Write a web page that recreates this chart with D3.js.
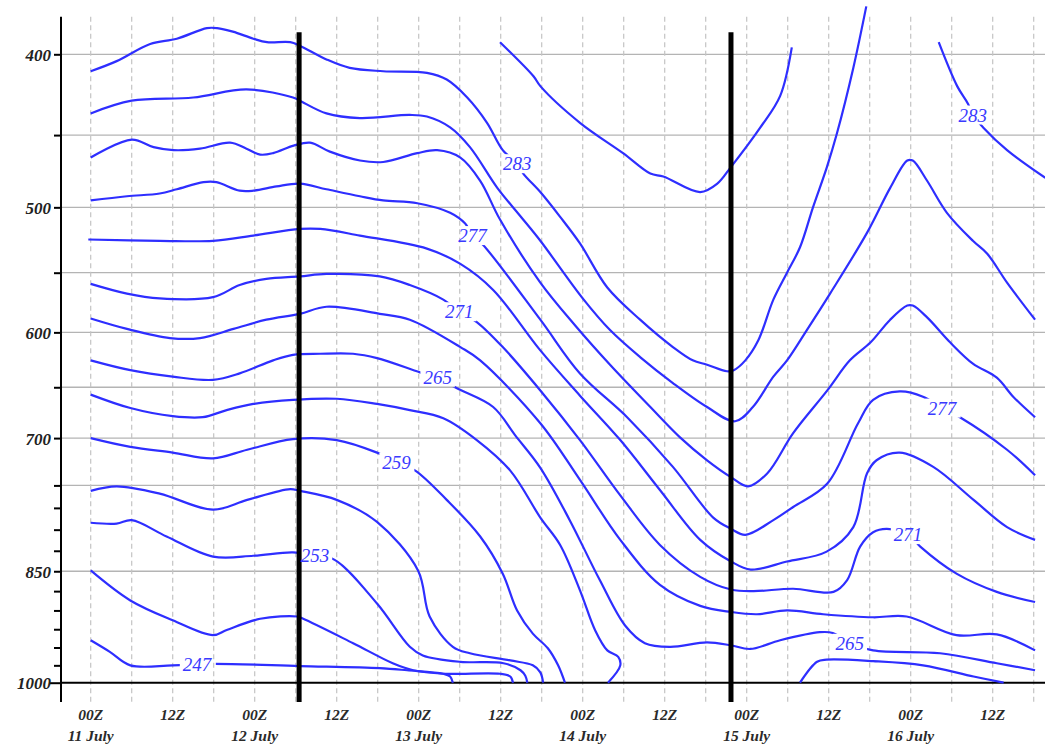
<!DOCTYPE html>
<html><head><meta charset="utf-8">
<script src="https://cdn.jsdelivr.net/npm/d3@7"></script>
<style>body{margin:0;background:#fff}</style>
</head><body>
<svg id="chart" width="1045" height="750"></svg>
<script>
// ---------- axis data ----------
const pressureTicks = [400,450,500,550,600,650,700,750,775,800,825,850,875,900,925,950,975,1000];
const pressureLabels = [400,500,600,700,850,1000];
const pressureGrid = [400,450,500,550,600,650,700,750,850];
const gridHours = d3.range(0,139,6);            // hours after 00Z 11 July
const labelHours = [0,12,24,36,48,60,72,84,96,108,120,132];
const hourText = ["00Z","12Z","00Z","12Z","00Z","12Z","00Z","12Z","00Z","12Z","00Z","12Z"];
const dayText  = ["11 July","","12 July","","13 July","","14 July","","15 July","","16 July",""];
const frontHours = [30.5, 93.7];

// ---------- isentropes: [hours after 00Z 11 July, pressure hPa] ----------
const c247 = [[0,940],[2.8,956],[5.8,975],[12,975],[17.9,973],[30.6,976],[42.3,979],[46.3,982],[51.6,987],[52.6,991],[53,1000]];
const c250 = [[0,849],[5.8,887],[12,913],[17.9,933],[19.9,926],[24.8,911],[30.2,908],[31.1,911],[38.4,944],[44.2,972],[47.2,982],[51.6,987],[59.9,987],[61.4,991],[61.8,1000]];
const c253 = [[0,792],[3.8,793],[6,789],[11.1,808],[17.9,832],[23.8,831],[29.6,827],[32.8,831],[35.7,836],[41.9,891],[46.7,949],[48.6,961],[54.1,970],[60.4,972],[62.9,982],[63.6,990],[63.9,1000]];
const c256 = [[0,756],[3.8,751],[10.1,759],[17.9,777],[22.9,766],[29.2,754],[30.6,756],[36,766],[41.9,791],[47.9,849],[49.6,908],[53,949],[55.5,958],[61.4,968],[64.7,975],[65.8,985],[66.2,1000]];
const c259 = [[0,700],[5.8,709],[12,715],[17.9,721],[22.9,712],[29.6,701],[36,702],[41.9,715],[44.8,725],[47.5,734],[52.1,766],[57,808],[60.3,853],[62.4,900],[64.7,931],[66.9,951],[68.4,975],[69.4,1000]];
const c262 = [[0,657],[5.8,670],[12,678],[16.4,679],[19.9,672],[23.8,666],[29.6,662],[36,661],[41.9,666],[46.7,672],[51.6,680],[56.5,702],[61.4,734],[65.8,786],[68.7,818],[71.6,874],[73.8,926],[75.6,954],[77.2,963],[77.5,975],[75.7,1000]];
const c265 = [[0,625],[5.8,634],[12,640],[17.9,643],[21.8,637],[26.7,625],[29.6,620],[33.6,619],[38.4,619],[41.9,623],[48.2,636],[50.8,641],[53.6,651],[58.9,669],[62.1,697],[65.8,731],[70.1,789],[74.5,861],[78.2,920],[81.1,944],[84.8,949],[90.2,943],[93.7,947],[96.5,952],[100.9,940],[106.7,929],[108.6,930],[111.1,944],[114.5,954],[124.3,958],[132.6,972],[138.2,982]];
const c268 = [[0,588],[5.3,597],[11.6,605],[16,605],[20.9,597],[25.7,589],[30.6,584],[34.5,578],[42.3,584],[46.7,589],[54.1,613],[57,625],[65.8,685],[71.6,744],[77.5,812],[83.3,867],[89.2,894],[93.7,902],[97.5,905],[101.9,900],[107.2,905],[114.5,909],[119.4,908],[126.7,933],[132.6,932],[138.2,954]];
const c271 = [[0,559],[5.3,567],[10.1,571],[17.9,570],[21.8,560],[25.7,555],[30.6,553],[34.5,551],[42.3,553],[46.7,560],[51.6,572],[53.9,582],[56.5,591],[60.3,613],[65.8,653],[71.6,702],[77.5,761],[83.3,818],[89.2,857],[93.7,873],[97,875],[102.8,872],[108.7,876],[110.7,861],[112.6,820],[114.5,803],[116.5,799],[119.7,806],[121.4,820],[126.7,853],[132.6,876],[138.2,889]];
const c274 = [[-0.35,524],[10.1,525],[17.9,525],[23.8,521],[30.6,516],[33.6,516],[39.4,521],[49.2,531],[54.1,543],[58.9,564],[65.8,616],[71.6,658],[77.5,702],[83.3,755],[89.2,812],[93.7,838],[96.6,848],[101.9,838],[107.7,826],[111.6,797],[113.6,737],[115,723],[118.4,715],[123.3,730],[129.2,766],[134.1,797],[138.2,812]];
const c277 = [[0,495],[5.3,492],[10.1,490],[12.6,487],[16.5,482],[18.4,482],[21.8,488],[23.8,488],[27.2,485],[30.6,483],[34.5,487],[39.4,492],[42.8,495],[47.8,497],[52.6,504],[54.8,512],[55.9,521],[57.4,528],[65.8,589],[71.6,637],[78.5,679],[85.2,730],[91.1,786],[93.7,799],[95.8,806],[99.9,789],[102.8,774],[107.8,748],[112.3,685],[114.5,662],[118.4,654],[121.8,659],[124.6,670],[127.2,679],[134.1,712],[138.2,739]];
const c279 = [[0,465],[6,453],[9.2,458],[12.1,460],[16,459],[20.4,455],[22.8,459],[24.8,463],[26.7,462],[29.7,457],[32.1,455],[35,461],[39.4,467],[42.8,468],[47.8,462],[50.7,460],[54.1,465],[57,481],[59.9,509],[65.8,558],[70.9,594],[76,629],[81.9,669],[86.2,699],[90.2,723],[93.7,741],[96.2,751],[99,737],[102.8,695],[107.8,653],[111.1,625],[114.1,609],[117,589],[119.5,577],[120.3,577],[122.4,587],[125.8,609],[129.1,628],[132.6,641],[135,659],[138.2,679]];
const c281 = [[0,436],[6,428],[15,426],[22.8,421],[29.6,426],[30.6,428],[34.5,436],[39.4,439],[46.7,437],[49.2,438],[52.6,445],[55.5,458],[59.5,486],[62.8,506],[65.8,525],[72,571],[76,598],[80.4,622],[85.2,646],[90.2,669],[94.3,683],[96.9,669],[99.9,640],[101.9,625],[104.8,598],[108.2,567],[113.6,519],[117,486],[119.5,467],[120.3,467],[122.4,481],[125.3,504],[129.1,525],[131.2,535],[134.1,558],[138.2,589]];
const c283 = [[0,410],[3.8,404],[8.7,394],[12.6,391],[17,385],[18.5,385],[20.8,387],[23.8,391],[25.8,393],[29.2,393],[30.6,395],[34.5,403],[37.9,408],[42.8,410],[49.2,411],[52.1,415],[55.1,426],[58,442],[60.3,460],[62.4,469],[63.3,476],[65.8,489],[68.7,507],[71.6,527],[75.6,562],[80.4,589],[85.2,613],[88.1,625],[90.2,629],[93.1,635],[94.1,634],[95.8,625],[97.7,607],[99.9,572],[101.9,550],[103.8,530],[105.7,500],[107.7,472],[109.2,449],[111.6,408],[113.5,373]];
const c286 = [[59.9,393],[64.8,413],[65.8,419],[71.6,442],[77.9,462],[81.9,476],[83.8,478],[89.2,489],[91.7,483],[93.6,472],[98,445],[100.9,425],[102.6,396]];
const c283b = [[124.1,393],[126.8,419],[128.4,430],[129.1,437],[130.6,445],[134.1,460],[139.7,479]];
const c262b = [[103.8,1000],[106.3,970],[107.7,967],[114.5,969],[121.8,975],[129.2,991],[133.6,1000]];

const contours = [
  {id:"c247",pts:c247},{id:"c250",pts:c250},{id:"c253",pts:c253},{id:"c256",pts:c256},
  {id:"c259",pts:c259},{id:"c262",pts:c262},{id:"c265",pts:c265},{id:"c268",pts:c268},
  {id:"c271",pts:c271},{id:"c274",pts:c274},{id:"c277",pts:c277},{id:"c279",pts:c279},
  {id:"c281",pts:c281},{id:"c283",pts:c283},{id:"c286",pts:c286},{id:"c283b",pts:c283b},
  {id:"c262b",pts:c262b}
];

// contour labels
const labelText = ["247","253","259","265","271","277","283","265","271","277","283"];
const labelLine = ["c247","c253","c259","c265","c271","c277","c283","c265","c271","c277","c283b"];
const labelHour = [15.6,32.8,44.8,50.8,53.9,55.9,62.4,111.1,119.6,124.6,129.1];
const labelPres = [975,831,725,641,582,521,469,944,806,670,437];

// ---------- drawing ----------
const W = 1045, H = 750;
const svg = d3.select("#chart");
svg.append("rect").attr("width",W).attr("height",H).attr("fill","#fff");

const x = d3.scaleLinear().domain([0,138]).range([90.7,1033.7]);
const y = d3.scaleLog().domain([400,1000]).range([54.3,682.7]);
const xLeft = 61, xRight = W, yTop = 16.7, yBot = 702;

// horizontal grid
svg.append("g").selectAll("line").data(pressureGrid).join("line")
  .attr("x1",xLeft).attr("x2",xRight).attr("y1",d=>y(d)).attr("y2",d=>y(d))
  .attr("stroke","#b4b4b4").attr("stroke-width",1.3);

// vertical dashed grid
svg.append("g").selectAll("line").data(gridHours).join("line")
  .attr("x1",d=>x(d)).attr("x2",d=>x(d)).attr("y1",yTop).attr("y2",yBot)
  .attr("stroke","#c4c4c4").attr("stroke-width",1.2).attr("stroke-dasharray","5,3.5");

// y axis
const yAxis = d3.axisLeft(y).tickValues(pressureTicks).tickSize(7)
  .tickFormat(d => pressureLabels.includes(d) ? d : "");
const gy = svg.append("g").attr("transform",`translate(${xLeft},0)`).call(yAxis);
gy.select(".domain").remove();
gy.selectAll(".tick line").attr("stroke","#000").attr("stroke-width",2)
  .attr("x2", d => d===1000 ? -12 : -7);
gy.selectAll(".tick text").attr("x",-10).attr("dy","0.36em")
  .attr("font-family","'Liberation Serif', serif").attr("font-style","italic")
  .attr("font-weight","bold").attr("font-size",17).attr("fill","#222");
svg.append("line").attr("x1",xLeft).attr("x2",xLeft).attr("y1",yTop).attr("y2",yBot)
  .attr("stroke","#000").attr("stroke-width",2);
// 1000 hPa base line
svg.append("line").attr("x1",xLeft).attr("x2",xRight).attr("y1",y(1000)).attr("y2",y(1000))
  .attr("stroke","#000").attr("stroke-width",2);

// x labels
const gx = svg.append("g").attr("font-family","'Liberation Serif', serif")
  .attr("font-style","italic").attr("font-weight","bold").attr("font-size",15.5)
  .attr("fill","#2a2a2a").attr("text-anchor","middle");
gx.selectAll("text.h").data(labelHours).join("text").attr("class","h")
  .attr("x",d=>x(d)).attr("y",720).text((d,i)=>hourText[i]);
gx.selectAll("text.d").data(labelHours).join("text").attr("class","d")
  .attr("x",d=>x(d)).attr("y",741).text((d,i)=>dayText[i]);

// contour lines
const line = d3.line().x(d=>x(d[0])).y(d=>y(d[1])).curve(d3.curveCatmullRom.alpha(0.5));
const defs = svg.append("defs");
const mask = defs.append("mask").attr("id","lblmask").attr("maskUnits","userSpaceOnUse")
  .attr("x",0).attr("y",0).attr("width",W).attr("height",H);
mask.append("rect").attr("width",W).attr("height",H).attr("fill","#fff");

const gc = svg.append("g").attr("mask","url(#lblmask)");
const paths = {};
contours.forEach(c => {
  paths[c.id] = gc.append("path").attr("d",line(c.pts)).attr("fill","none")
    .attr("stroke","#2e2eff").attr("stroke-width",2.2).node();
});

// fronts (thick black lines)
svg.append("g").selectAll("line").data(frontHours).join("line")
  .attr("x1",d=>x(d)).attr("x2",d=>x(d)).attr("y1",32.3).attr("y2",yBot)
  .attr("stroke","#000").attr("stroke-width",5);

// labels snapped onto their line
const gl = svg.append("g").attr("font-family","'Liberation Serif', serif")
  .attr("font-style","italic").attr("font-size",19).attr("fill","#3a3aff").attr("text-anchor","middle");
labelText.forEach((t,i) => {
  const p = paths[labelLine[i]];
  const tx = x(labelHour[i]), ty = y(labelPres[i]);
  const L = p.getTotalLength();
  let best = null, bd = Infinity;
  for (let s=0; s<=L; s+=0.5) {
    const q = p.getPointAtLength(s);
    const dd = (q.x-tx)*(q.x-tx)+(q.y-ty)*(q.y-ty);
    if (dd<bd) { bd=dd; best=q; }
  }
  const txt = gl.append("text").attr("x",best.x).attr("y",best.y).attr("dy","0.35em").text(t);
  const bb = txt.node().getBBox();
  mask.append("rect").attr("x",bb.x-3).attr("y",bb.y+1).attr("width",bb.width+6).attr("height",bb.height-2).attr("fill","#000");
});
</script>
</body></html>
